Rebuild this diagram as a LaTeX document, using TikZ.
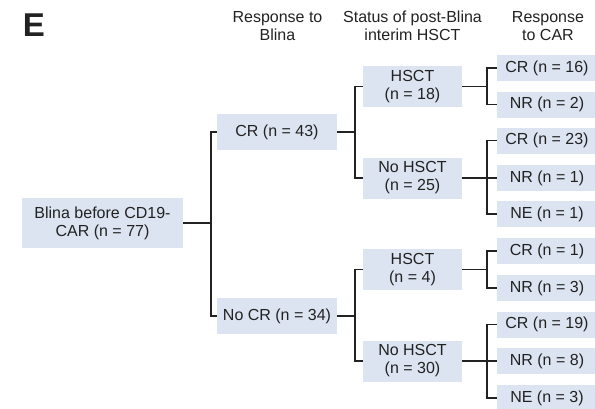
\documentclass[tikz,border=0pt]{standalone}
\usepackage{fontspec}
\setmainfont{Liberation Sans}
\usetikzlibrary{calc}
\definecolor{boxfill}{RGB}{220,228,241}
\definecolor{ink}{RGB}{34,34,34}
\begin{document}
\begin{tikzpicture}[x=1pt,y=-1pt,
  every node/.style={text=ink},
  lbl/.style={font={\fontsize{16}{18}\selectfont}},
  box/.style={lbl,fill=boxfill,inner sep=0pt,align=center,anchor=center},
  rootbox/.style={box,minimum width=161pt,minimum height=50pt},
  blinabox/.style={box,minimum width=120pt,minimum height=36pt},
  hsctbox/.style={box,minimum width=99pt,minimum height=41pt},
  carbox/.style={box,minimum width=100pt,minimum height=26pt},
  head/.style={lbl,align=center,anchor=center,inner sep=0pt},
  link/.style={draw=ink,line width=1.4pt}]
\useasboundingbox (0,0) rectangle (595,408);
\clip (0,0) rectangle (595,408);

% panel letter and column headings
\node[anchor=center,inner sep=0pt,font={\fontsize{33}{33}\selectfont\bfseries}] (letter) at (34,25) {E};
\node[head] (h1) at (277.5,26) {Response to\\Blina};
\node[head] (h2) at (412.5,26) {Status of post-Blina\\interim HSCT};
\node[head] (h3) at (548,26) {Response\\to CAR};

% tree boxes
\node[rootbox] (root) at (102.5,223) {Blina before CD19-\\CAR (n = 77)};

\node[blinabox] (cr43) at (277,132) {CR (n = 43)};
\node[blinabox] (nocr) at (277,316) {No CR (n = 34)};

\node[hsctbox] (hsct18) at (412.5,86.5) {HSCT\\(n = 18)};
\node[hsctbox] (nohsct25) at (412.5,178) {No HSCT\\(n = 25)};
\node[hsctbox] (hsct4) at (412.5,269.5) {HSCT\\(n = 4)};
\node[hsctbox] (nohsct30) at (412.5,361) {No HSCT\\(n = 30)};

\node[carbox] (cr16) at (547,68) {CR (n = 16)};
\node[carbox] (nr2) at (547,104.5) {NR (n = 2)};
\node[carbox] (cr23) at (547,140.5) {CR (n = 23)};
\node[carbox] (nr1) at (547,178) {NR (n = 1)};
\node[carbox] (ne1) at (547,214) {NE (n = 1)};
\node[carbox] (cr1) at (547,251) {CR (n = 1)};
\node[carbox] (nr3) at (547,288) {NR (n = 3)};
\node[carbox] (cr19) at (547,324.5) {CR (n = 19)};
\node[carbox] (nr8) at (547,361) {NR (n = 8)};
\node[carbox] (ne3) at (547,398) {NE (n = 3)};

% junction points of the brackets
\coordinate (j0) at ([xshift=-6pt]cr43.west |- root.east);
\coordinate (j1) at ([xshift=-8pt]hsct18.west |- cr43.east);
\coordinate (j2) at ([xshift=-8pt]hsct4.west |- nocr.east);
\coordinate (j3) at ([xshift=-10pt]cr16.west |- hsct18.east);
\coordinate (j4) at ([xshift=-10pt]cr23.west |- nohsct25.east);
\coordinate (j5) at ([xshift=-10pt]cr1.west |- hsct4.east);
\coordinate (j6) at ([xshift=-10pt]cr19.west |- nohsct30.east);

% brackets
\draw[link] (root.east) -- (j0);
\draw[link] (cr43.west) -- (cr43.west -| j0) -- (nocr.west -| j0) -- (nocr.west);

\draw[link] (cr43.east) -- (j1);
\draw[link] (hsct18.west) -- (hsct18.west -| j1) -- (nohsct25.west -| j1) -- (nohsct25.west);
\draw[link] (nocr.east) -- (j2);
\draw[link] (hsct4.west) -- (hsct4.west -| j2) -- (nohsct30.west -| j2) -- (nohsct30.west);

\draw[link] (hsct18.east) -- (j3);
\draw[link] (cr16.west) -- (cr16.west -| j3) -- (nr2.west -| j3) -- (nr2.west);
\draw[link] (nohsct25.east) -- (j4) -- (nr1.west);
\draw[link] (cr23.west) -- (cr23.west -| j4) -- (ne1.west -| j4) -- (ne1.west);
\draw[link] (hsct4.east) -- (j5);
\draw[link] (cr1.west) -- (cr1.west -| j5) -- (nr3.west -| j5) -- (nr3.west);
\draw[link] (nohsct30.east) -- (j6) -- (nr8.west);
\draw[link] (cr19.west) -- (cr19.west -| j6) -- (ne3.west -| j6) -- (ne3.west);
\end{tikzpicture}
\end{document}
